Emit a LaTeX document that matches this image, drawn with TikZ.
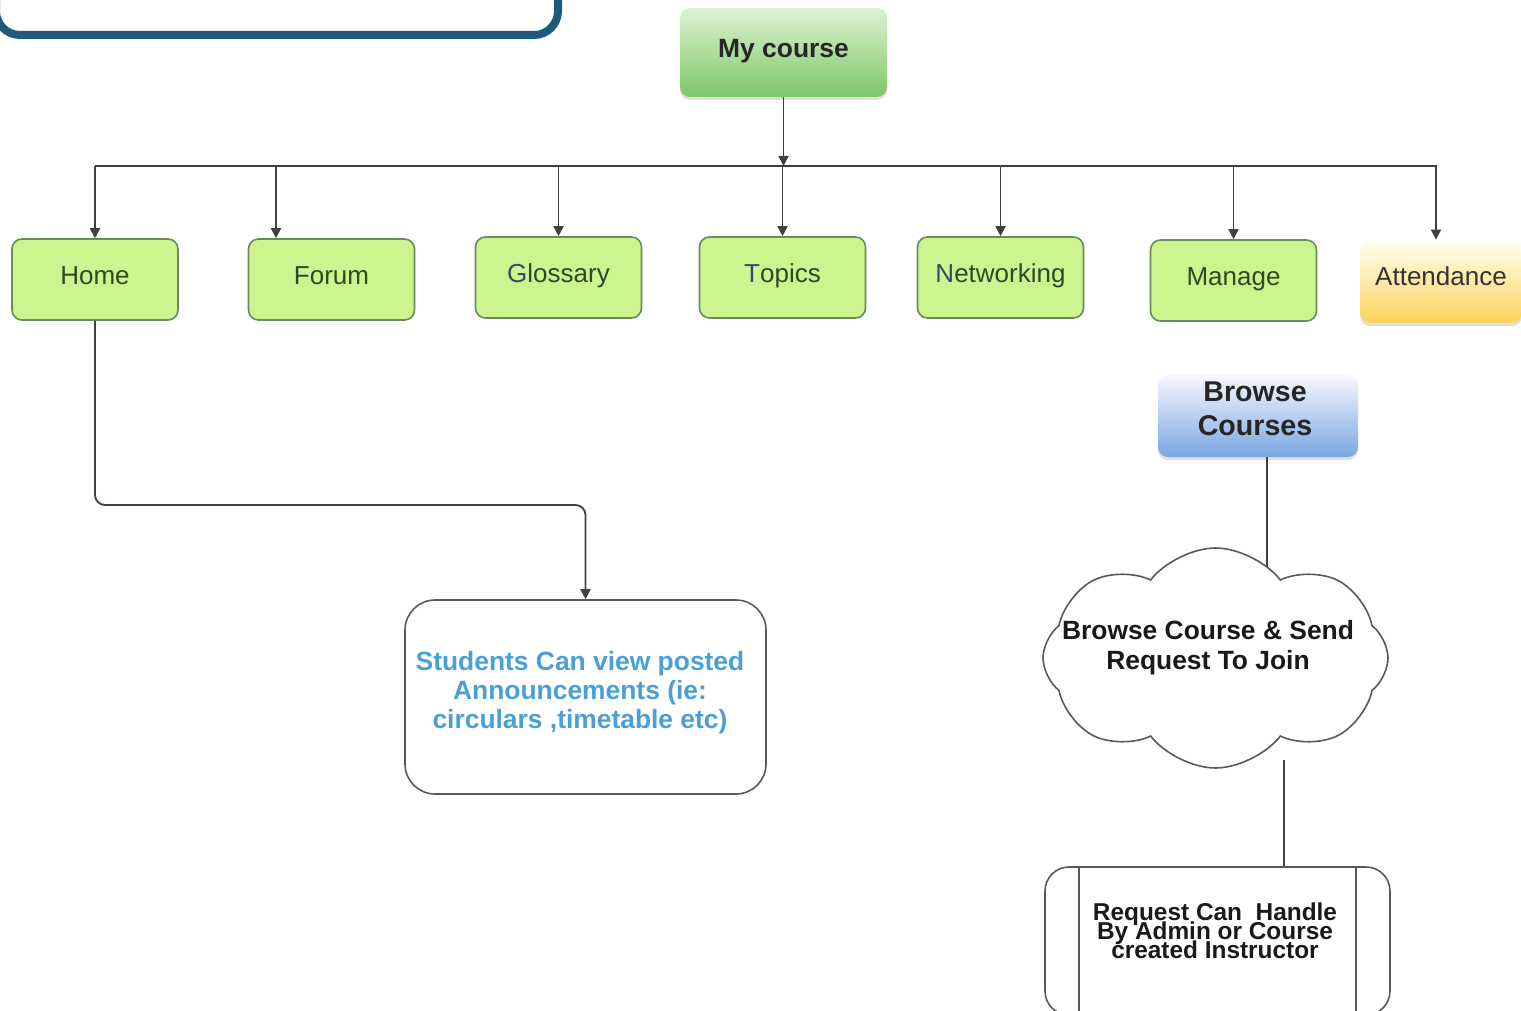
\documentclass[tikz,border=0pt]{standalone}
\usepackage{fontspec}
\setmainfont{Liberation Sans}
\usetikzlibrary{arrows.meta,shapes.symbols,shadows}
\definecolor{gfill}{HTML}{CCF590}
\definecolor{gbord}{HTML}{6A8A5A}
\definecolor{gtext}{HTML}{2E4A22}
\definecolor{initc}{HTML}{2C4F6E}
\definecolor{frameblue}{HTML}{1F5A7C}
\definecolor{stud}{HTML}{4A9FD8}
\definecolor{mctop}{HTML}{DDF2D0}
\definecolor{mcbot}{HTML}{7FC76A}
\definecolor{attbot}{HTML}{FCD35A}
\definecolor{brbot}{HTML}{7AA6E0}
\newcommand\mytightlines{\lineskiplimit=-20pt\relax}
\begin{document}
\begin{tikzpicture}[x=0.5pt,y=-0.5pt,
  conn/.style={draw=black!75, line width=0.9pt},
  arr/.style={conn,-{Triangle[length=5pt,width=5pt]}},
  greenbox/.style={draw=gbord, fill=gfill, rounded corners=5pt, line width=0.8pt,
    minimum width=83pt, minimum height=40.5pt, inner sep=0pt, text height=9pt, text depth=4.5pt,
    font=\fontsize{13}{15}\selectfont, text=gtext},
  shadowbox/.style={rounded corners=5pt, inner sep=0pt,
    drop shadow={opacity=0.25, shadow xshift=0pt, shadow yshift=-1.5pt}},
  boldtext/.style={font=\bfseries\fontsize{13.2}{15}\selectfont, align=center}]
\useasboundingbox (0,0) rectangle (1521,1011);
\clip (0,0) rectangle (1521,1011);

% partial frame top-left
\draw[frameblue, line width=4pt, rounded corners=12pt] (-4,-100) rectangle (558,35);

% top node
\node[shadowbox, top color=mctop, bottom color=mcbot,
  minimum width=103.5pt, minimum height=44.5pt, text height=9.5pt, text depth=4pt, boldtext, text=black!85] (mycourse) at (783.5,52.5) {My course};

% level-1 boxes
\node[greenbox] (home) at (95,279.5) {Home};
\node[greenbox] (forum) at (331.5,279.5) {Forum};
\node[greenbox] (glossary) at (558.5,277.5) {\textcolor{initc}{G}lossary};
\node[greenbox] (topics) at (782.5,277.5) {\textcolor{initc}{T}opics};
\node[greenbox] (networking) at (1000.5,277.5) {\textcolor{initc}{N}etworking};
\node[greenbox] (manage) at (1233.5,280.5) {Manage};
\node[shadowbox, top color=yellow!5!white, bottom color=attbot, text height=9pt, text depth=5pt,
  minimum width=81pt, minimum height=41.5pt, font=\fontsize{13}{15}\selectfont, text=black!80] (attend) at (1441,281.5) {Attendance};

% bus
\coordinate (bus) at (783.5,166);
\draw[arr] (mycourse.south) -- (bus);
\draw[conn] (home.north |- bus) -- (1437,166);
\draw[arr] (home.north |- bus) -- (home.north);
\draw[arr] ([xshift=-27.75pt]forum.north |- bus) -- ([xshift=-27.75pt]forum.north);
\draw[arr] (glossary.north |- bus) -- (glossary.north);
\draw[arr] (topics.north |- bus) -- (topics.north);
\draw[arr] (networking.north |- bus) -- (networking.north);
\draw[arr] (manage.north |- bus) -- (manage.north);
\draw[arr] ([xshift=-2.5pt]attend.north |- bus) -- ([xshift=-2.5pt]attend.north);

% students box
\node[draw=black!65, line width=0.8pt, rounded corners=15pt, minimum width=180.5pt, minimum height=97pt, inner sep=0pt] (students) at (585.5,697) {};
\node[font=\bfseries\fontsize{13.2}{14.5}\selectfont, text=stud, align=center] (studtext) at (580,693)
  {Students Can view posted\\Announcements (ie:\\circulars ,timetable etc)};
\coordinate (hb) at (95,505);
\draw[arr, rounded corners=5pt] (home.south) -- (hb) -| (students.north);

% browse courses
\node[shadowbox, top color=blue!3!white, bottom color=brbot,
  minimum width=100pt, minimum height=41pt, inner sep=0pt] (browse) at (1258,416) {};
\node[font=\bfseries\fontsize{14.3}{17}\selectfont, align=center, text=black!85] (browsetext) at (1255,409) {Browse\\Courses};

% cloud
\coordinate (ctop) at (1267,573);
\draw[conn] ([xshift=4.5pt]browse.south) -- (ctop);
\node[cloud, cloud puffs=8, cloud puff arc=105, cloud ignores aspect, draw=black!65, line width=0.8pt, fill=white,
  minimum width=172.5pt, minimum height=110pt, inner sep=0pt, shape border rotate=10] (cloud) at (1215.5,658) {};
\node[boldtext, text=black!90] (cloudtext) at (1208,648) {Browse Course \& Send\\Request To Join};

% bottom process box
\node[draw=black!65, line width=0.8pt, rounded corners=12pt, minimum width=172.5pt, minimum height=74pt, inner sep=0pt] (req) at (1217.5,941) {};
\draw[black!65, line width=0.8pt] ([xshift=17.5pt]req.north west) -- ([xshift=17.5pt]req.south west);
\draw[black!65, line width=0.8pt] ([xshift=-17.5pt]req.north east) -- ([xshift=-17.5pt]req.south east);
\node[font=\bfseries\fontsize{12.2}{9.5}\selectfont\mytightlines, align=center, text=black!90] (reqtext) at (1215,931)
  {Request Can\ \ Handle\\By Admin or Course\\created Instructor};
\coordinate (cbot) at (1284,760);
\draw[conn] (cbot) -- ([xshift=33.25pt]req.north);
\end{tikzpicture}
\end{document}
